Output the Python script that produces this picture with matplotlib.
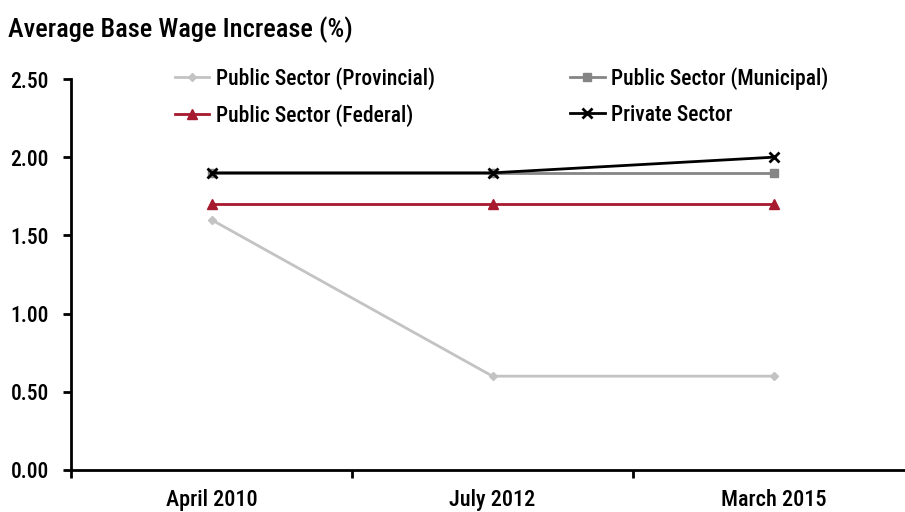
import matplotlib.pyplot as plt
from matplotlib import font_manager

periods = ['April 2010', 'July 2012', 'March 2015']
provincial = [1.6, 0.6, 0.6]
municipal = [1.9, 1.9, 1.9]
federal = [1.7, 1.7, 1.7]
private = [1.9, 1.9, 2.0]

# prefer a narrow sans face, fall back to Liberation Sans bold
names = {f.name for f in font_manager.fontManager.ttflist}
narrow = [n for n in ['Liberation Sans Narrow', 'Roboto Condensed',
                      'Open Sans Condensed', 'DejaVu Sans Condensed'] if n in names]
if narrow:
    plt.rcParams['font.family'] = [narrow[0], 'DejaVu Sans']
    plt.rcParams['font.weight'] = 'medium'
    fs = 15.5
else:
    plt.rcParams['font.family'] = ['Liberation Sans', 'DejaVu Sans']
    plt.rcParams['font.weight'] = 'bold'
    fs = 13

fig = plt.figure(figsize=(9.05, 5.12), dpi=100)
ax = fig.add_axes([71 / 905, 1 - 470 / 512, 843 / 905, 391 / 512])

x = range(len(periods))
ax.plot(x, provincial, color='#c3c3c3', lw=2, marker='D', ms=4,
        label='Public Sector (Provincial)')
ax.plot(x, federal, color='#a6192e', lw=2, marker='^', ms=7,
        label='Public Sector (Federal)')
ax.plot(x, municipal, color='#858585', lw=2, marker='s', ms=6,
        label='Public Sector (Municipal)')
ax.plot(x, private, color='black', lw=2, marker='x', ms=7, mew=2,
        label='Private Sector')

ax.set_xlim(-0.5, 2.5)
ax.set_ylim(0, 2.5)
ax.set_yticks([0, 0.5, 1.0, 1.5, 2.0, 2.5])
ax.set_yticklabels(['%.2f' % v for v in ax.get_yticks()])
ax.set_xticks([-0.5, 0.5, 1.5, 2.5])
ax.set_xticklabels([])
ax.set_xticks(list(x), minor=True)
ax.set_xticklabels(periods, minor=True)
ax.tick_params(axis='x', which='minor', length=0, pad=14, labelsize=fs + 0.5)
ax.tick_params(axis='x', which='major', direction='out', length=6, width=2)
ax.tick_params(axis='y', direction='out', length=6, width=2, pad=10, labelsize=fs)

for s in ['top', 'right']:
    ax.spines[s].set_visible(False)
for s in ['left', 'bottom']:
    ax.spines[s].set_linewidth(2)

handles, labels = ax.get_legend_handles_labels()
ax.legend(handles, labels, ncol=2, loc='upper left', bbox_to_anchor=(0.1, 1.08),
          frameon=False, fontsize=fs, handlelength=1.6, columnspacing=6.3,
          labelspacing=0.65, handletextpad=0.3)

fig.text(8 / 905, 1 - 30 / 512, 'Average Base Wage Increase (%)', fontsize=19,
         va='center', ha='left')

fig.savefig('out.png', dpi=100)
